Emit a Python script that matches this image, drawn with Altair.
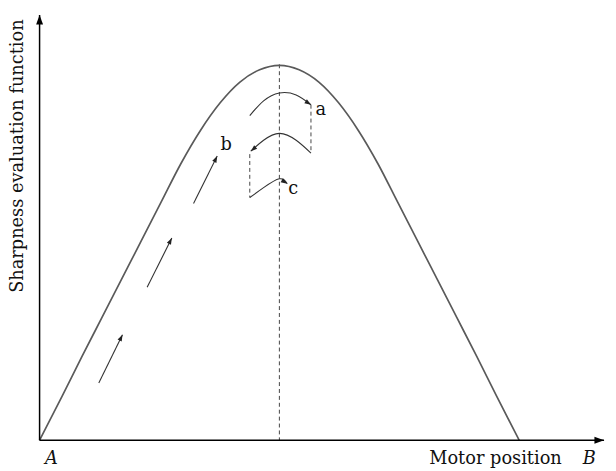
import math
import altair as alt
import pandas as pd

# ---- data (in plot units: 1 unit = 1 px) ----
curve_x = [0, 23, 43, 63, 83, 103, 123, 143, 163, 183, 203, 223, 243,
           263, 283, 303, 323, 343, 363, 383, 403, 423, 443, 463, 486]
curve_y = [0, 45, 85, 124, 163, 202, 241, 280, 314, 342, 363, 375.5, 380,
           375.5, 363, 342, 314, 280, 241, 202, 163, 124, 85, 45, 0]

peak_x = 243
peak_y = 381

# straight search-step arrows on the rising side
step_start_x = [60, 109, 156]
step_start_y = [58, 155, 240]
step_end_x = [84, 134, 180]
step_end_y = [107, 205, 288]

# fine-search arcs near the peak
arc_a_x = [213, 227, 243, 260, 275]
arc_a_y = [329, 344, 352, 350, 340]
arc_b_x = [275, 260, 243, 227, 214]
arc_b_y = [291, 304, 311, 304, 293]
arc_c_x = [213, 227, 243, 251]
arc_c_y = [246, 256, 265, 260]

# dashed drops between arcs
drop_x = [275, 213]
drop_top = [340, 290]
drop_bottom = [291, 246]

arc_labels = ["a", "b", "c"]
arc_label_x = [285, 189, 257]
arc_label_y = [335, 299, 255]

x_axis_len = 572
y_axis_len = 431

W, H = x_axis_len, y_axis_len
xs = alt.Scale(domain=[0, W], nice=False, zero=False)
ys = alt.Scale(domain=[0, H], nice=False, zero=False)
SERIF = "DejaVu Serif"
FS = 18


def X(f="x"):
    return alt.X(f"{f}:Q", scale=xs, axis=None)


def Y(f="y"):
    return alt.Y(f"{f}:Q", scale=ys, axis=None)


# ---- tables ----
curve_df = pd.DataFrame({"x": curve_x, "y": curve_y})

paths = []
heads = []


def add_path(pid, xs_, ys_, small=True):
    for i, (a, b) in enumerate(zip(xs_, ys_)):
        paths.append({"id": pid, "o": i, "x": a, "y": b})
    dx = xs_[-1] - xs_[-2]
    dy = ys_[-1] - ys_[-2]
    ang = math.degrees(math.atan2(dx, dy)) % 360
    heads.append({"x": xs_[-1], "y": ys_[-1], "angle": ang, "kind": "small" if small else "big"})


for i in range(3):
    add_path(f"s{i}", [step_start_x[i], step_end_x[i]], [step_start_y[i], step_end_y[i]])
add_path("a", arc_a_x, arc_a_y)
add_path("b", arc_b_x, arc_b_y)
add_path("c", arc_c_x, arc_c_y)

paths_df = pd.DataFrame(paths)

# axis arrowheads
heads.append({"x": W, "y": 0, "angle": 90.0, "kind": "big"})
heads.append({"x": 0, "y": H, "angle": 0.0, "kind": "big"})
heads_df = pd.DataFrame(heads)

axes_df = pd.DataFrame({"x": [0, 0], "y": [0, 0], "x2": [W, 0], "y2": [0, H]})

dash_df = pd.DataFrame({
    "x": drop_x + [peak_x],
    "y": drop_top + [peak_y],
    "y2": drop_bottom + [0],
})

lab_df = pd.DataFrame({"x": arc_label_x, "y": arc_label_y, "t": arc_labels})

italic_df = pd.DataFrame({"x": [12, 557], "y": [-24, -24], "t": ["A", "B"]})
xtitle_df = pd.DataFrame({"x": [462], "y": [-24], "t": ["Motor position"]})
ytitle_df = pd.DataFrame({"x": [-22], "y": [288], "t": ["Sharpness evaluation function"]})

ARROW = "M0,0L0.36,1L-0.36,1Z"

# ---- layers ----
axes = alt.Chart(axes_df).mark_rule(color="#000000", strokeWidth=1.5).encode(
    x=X(), y=Y(), x2="x2:Q", y2="y2:Q")

curve = alt.Chart(curve_df).mark_line(
    color="#5a5a5a", strokeWidth=1.7, interpolate="monotone").encode(x=X(), y=Y())

dashes = alt.Chart(dash_df).mark_rule(
    color="#444444", strokeWidth=1, strokeDash=[4, 3]).encode(x=X(), y=Y(), y2="y2:Q")

arrows = alt.Chart(paths_df).mark_line(
    color="#333333", strokeWidth=1.1, interpolate="natural").encode(
    x=X(), y=Y(), detail="id:N", order="o:Q")

heads_small = alt.Chart(heads_df[heads_df.kind == "small"]).mark_point(
    shape=ARROW, filled=True, color="#222222", size=170, opacity=1, strokeWidth=0).encode(
    x=X(), y=Y(), angle=alt.Angle("angle:Q", scale=None))

heads_big = alt.Chart(heads_df[heads_df.kind == "big"]).mark_point(
    shape=ARROW, filled=True, color="#000000", size=380, opacity=1, strokeWidth=0).encode(
    x=X(), y=Y(), angle=alt.Angle("angle:Q", scale=None))

labels = alt.Chart(lab_df).mark_text(
    font=SERIF, fontSize=FS, color="#111111", align="center", baseline="middle").encode(
    x=X(), y=Y(), text="t:N")

italic_text = alt.Chart(italic_df).mark_text(
    font=SERIF, fontSize=FS, fontStyle="italic", color="#111111",
    align="center", baseline="alphabetic").encode(x=X(), y=Y(), text="t:N")

xtitle = alt.Chart(xtitle_df).mark_text(
    font=SERIF, fontSize=FS, color="#111111", align="center", baseline="alphabetic").encode(
    x=X(), y=Y(), text="t:N")

ytitle = alt.Chart(ytitle_df).mark_text(
    font=SERIF, fontSize=FS, color="#111111", align="center", baseline="middle", angle=270).encode(
    x=X(), y=Y(), text="t:N")

chart = alt.layer(
    dashes, curve, arrows, axes, heads_small, heads_big, labels, italic_text, xtitle, ytitle
).properties(
    width=W, height=H,
    autosize=alt.AutoSizeParams(type="none"),
    padding={"left": 32, "top": 4, "right": 4, "bottom": 26},
).configure_view(stroke=None)

chart.save("out.html", embed_options={"renderer": "svg", "actions": False})
